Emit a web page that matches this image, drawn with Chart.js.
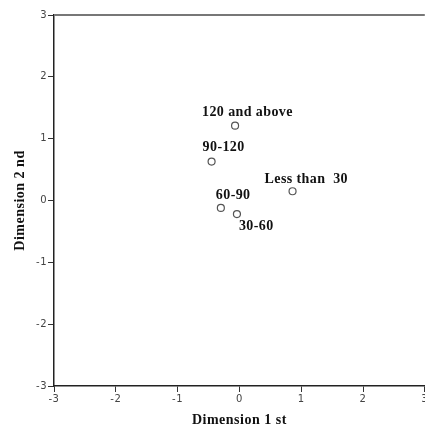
<!DOCTYPE html>
<html>
<head>
<meta charset="utf-8">
<script src="https://cdn.jsdelivr.net/npm/chart.js@4"></script>
<style>
  html, body { margin: 0; padding: 0; background: #fff; overflow: hidden; }
  #wrap { width: 430px; height: 432px; }
</style>
</head>
<body>
<div id="wrap"><canvas id="plot"></canvas></div>
<script>
// data
const categories = ['120 and above', '90-120', 'Less than  30', '60-90', '30-60'];
const dim1 = [-0.07, -0.45, 0.86, -0.30, -0.04];
const dim2 = [1.21, 0.63, 0.15, -0.12, -0.22];
const xTicks = [-3, -2, -1, 0, 1, 2, 3];
const yTicks = [-3, -2, -1, 0, 1, 2, 3];

// label placement relative to each point (px)
const labelOffsets = {
    '120 and above': [-33, -13],
    '90-120': [-9, -14],
    'Less than  30': [-28, -12],
    '60-90': [-5, -13],
    '30-60': [2, 12]
};

const serif = '"Liberation Serif", "Times New Roman", serif';
const sans = '"DejaVu Sans", Tahoma, sans-serif';

// SPSS output text runs a bit wider than canvas Times
const spacing = {
    id: 'spacing',
    beforeDraw(chart) { chart.ctx.letterSpacing = '0.5px'; }
};

const pointLabels = {
    id: 'pointLabels',
    afterDatasetsDraw(chart) {
        const ctx = chart.ctx;
        const meta = chart.getDatasetMeta(0);
        ctx.save();
        ctx.letterSpacing = '0.4px';
        ctx.font = 'bold 14px ' + serif;
        ctx.fillStyle = '#111';
        ctx.textAlign = 'left';
        ctx.textBaseline = 'middle';
        meta.data.forEach((pt, i) => {
            const off = labelOffsets[categories[i]];
            ctx.fillText(categories[i], pt.x + off[0], pt.y + off[1]);
        });
        ctx.restore();
    }
};

const frame = {
    id: 'frame',
    afterDraw(chart) {
        const { ctx, chartArea: a } = chart;
        ctx.save();
        ctx.strokeStyle = '#777';
        ctx.lineWidth = 2;
        ctx.beginPath();
        ctx.moveTo(a.left, a.top);
        ctx.lineTo(a.right, a.top);
        ctx.stroke();
        ctx.restore();
    }
};

new Chart(document.getElementById('plot'), {
    type: 'scatter',
    data: {
        datasets: [{
            data: categories.map((c, i) => ({ x: dim1[i], y: dim2[i] })),
            pointStyle: 'circle',
            radius: 3.5,
            borderWidth: 1.2,
            borderColor: '#555',
            backgroundColor: '#fff'
        }]
    },
    options: {
        responsive: true,
        maintainAspectRatio: false,
        animation: false,
        layout: { padding: { top: 15, right: 4, left: 0, bottom: 0 } },
        plugins: { legend: { display: false }, tooltip: { enabled: false } },
        scales: {
            x: {
                type: 'linear',
                min: -3, max: 3,
                afterBuildTicks: s => { s.ticks = xTicks.map(v => ({ value: v })); },
                afterFit: s => { s.height = 46; },
                grid: { drawOnChartArea: false, drawTicks: true, tickLength: 6, color: '#333' },
                border: { color: '#222', width: 1.5 },
                ticks: { color: '#444', font: { family: sans, size: 10 }, padding: 1, maxRotation: 0 },
                title: {
                    display: true, text: 'Dimension 1 st', color: '#111',
                    font: { family: serif, size: 14, weight: 'bold' },
                    padding: { top: 0, bottom: 3 }
                }
            },
            y: {
                type: 'linear',
                min: -3, max: 3,
                afterBuildTicks: s => { s.ticks = yTicks.map(v => ({ value: v })); },
                afterFit: s => { s.width = 54; },
                grid: { drawOnChartArea: false, drawTicks: true, tickLength: 6, color: '#333' },
                border: { color: '#222', width: 1.5 },
                ticks: { color: '#444', font: { family: sans, size: 10 }, padding: 1 },
                title: {
                    display: true, text: 'Dimension 2 nd', color: '#111',
                    font: { family: serif, size: 14, weight: 'bold' },
                    padding: { top: 12, bottom: 0 }
                }
            }
        }
    },
    plugins: [spacing, pointLabels, frame]
});
</script>
</body>
</html>
